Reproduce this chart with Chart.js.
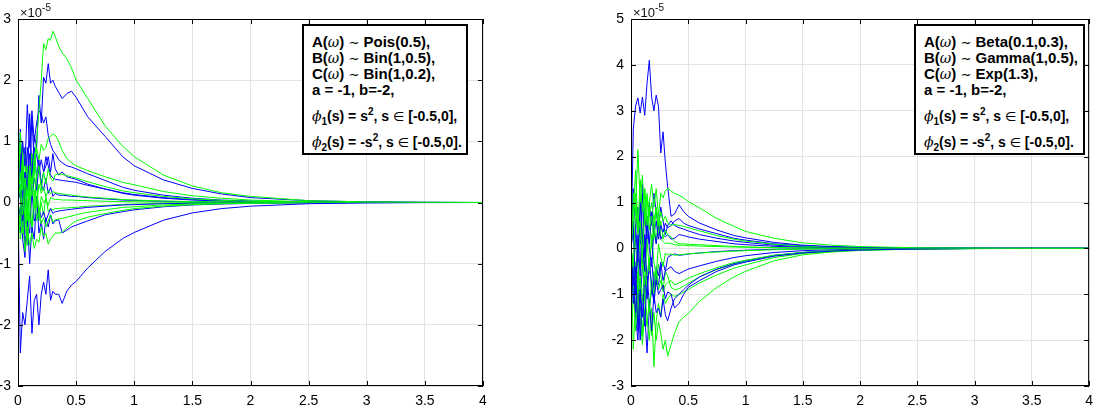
<!DOCTYPE html>
<html>
<head>
<meta charset="utf-8">
<script src="https://cdn.jsdelivr.net/npm/chart.js@4"></script>
<style>
  body { margin: 0; background: #fff; width: 1100px; height: 407px; overflow: hidden; position: relative; font-family: "Liberation Sans", Arial, sans-serif; }
  canvas { position: absolute; top: 0; }
  .expo { position: absolute; top: 3px; font-size: 13px; color: #111; }
  .expo sup { font-size: 10px; position: relative; top: -1px; }
  .box { position: absolute; top: 24px; height: 127px; background: #fff; border: 2px solid #000; }
  .ln { position: absolute; left: 8px; font-weight: bold; font-size: 15px; line-height: 15px; white-space: nowrap; color: #000; }
  .ln.f { font-size: 14px; }
  .ln i { font-family: "DejaVu Serif", serif; font-weight: normal; font-style: italic; font-size: 14px; }
  .ln .m { font-family: "DejaVu Sans", sans-serif; font-weight: normal; font-size: 13px; }
  .ln sub, .ln sup { font-size: 10px; line-height: 0; }
</style>
</head>
<body>
<canvas id="left" width="500" height="407" style="left:0"></canvas>
<canvas id="right" width="500" height="407" style="left:600px"></canvas>

<div class="expo" style="left:20px">&times;10<sup>-5</sup></div>
<div class="expo" style="left:633px">&times;10<sup>-5</sup></div>

<div class="box" style="left:302px; width:162px">
  <div class="ln" style="top:8px">A(<i>ω</i>) <span class="m">∼</span> Pois(0.5),</div>
  <div class="ln" style="top:24px">B(<i>ω</i>) <span class="m">∼</span> Bin(1,0.5),</div>
  <div class="ln" style="top:40px">C(<i>ω</i>) <span class="m">∼</span> Bin(1,0.2),</div>
  <div class="ln" style="top:56px">a = -1, b=-2,</div>
  <div class="ln f" style="top:83px"><i>ϕ</i><sub>1</sub>(s) = s<sup>2</sup>, s <span class="m">∈</span> [-0.5,0],</div>
  <div class="ln f" style="top:109px"><i>ϕ</i><sub>2</sub>(s) = -s<sup>2</sup>, s <span class="m">∈</span> [-0.5,0].</div>
</div>
<div class="box" style="left:914px; width:167px">
  <div class="ln" style="top:8px">A(<i>ω</i>) <span class="m">∼</span> Beta(0.1,0.3),</div>
  <div class="ln" style="top:24px">B(<i>ω</i>) <span class="m">∼</span> Gamma(1,0.5),</div>
  <div class="ln" style="top:40px">C(<i>ω</i>) <span class="m">∼</span> Exp(1.3),</div>
  <div class="ln" style="top:56px">a = -1, b=-2,</div>
  <div class="ln f" style="top:83px"><i>ϕ</i><sub>1</sub>(s) = s<sup>2</sup>, s <span class="m">∈</span> [-0.5,0],</div>
  <div class="ln f" style="top:109px"><i>ϕ</i><sub>2</sub>(s) = -s<sup>2</sup>, s <span class="m">∈</span> [-0.5,0].</div>
</div>

<script>
// time grid (s), values are in units of 1e-5
const times = [0, 0.02, 0.04, 0.06, 0.08, 0.1, 0.12, 0.14, 0.16, 0.18, 0.2, 0.22, 0.24, 0.26, 0.28, 0.3, 0.32, 0.35, 0.38, 0.42, 0.46, 0.5, 0.6, 0.75, 0.9, 1.0, 1.25, 1.5, 1.75, 2.0, 2.5, 3.0, 3.5, 4.0];
const xTicks = [0, 0.5, 1, 1.5, 2, 2.5, 3, 3.5, 4];
const yTicksLeft = [-3, -2, -1, 0, 1, 2, 3];
const yTicksRight = [-3, -2, -1, 0, 1, 2, 3, 4, 5];

// left panel: Pois / Bin / Bin
const leftBlue = [
  [0, 0.3, -0.2, 0.5, 0.2, 0.8, 0.4, 1.1, 0.9, 1.75, 1.3, 2.05, 1.95, 2.27, 1.95, 2.0, 1.9, 1.8, 1.7, 1.78, 1.82, 1.72, 1.4, 1.08, 0.75, 0.6, 0.37, 0.23, 0.14, 0.08, 0.03, 0.01, 0.004, 0],
  [0, -2.46, -1.8, -2.0, -1.6, -1.2, -2.14, -1.6, -1.5, -2.0, -1.5, -1.3, -1.5, -1.1, -1.6, -1.45, -1.5, -1.5, -1.65, -1.45, -1.35, -1.29, -1.07, -0.8, -0.59, -0.49, -0.29, -0.17, -0.1, -0.06, -0.02, -0.007, -0.002, 0],
  [0, 0.5, 1.0, 0.6, 1.6, 0.9, 1.5, 1.0, 1.3, 1.5, 1.45, 1.3, 1.4, 1.1, 0.95, 0.85, 0.8, 0.7, 0.65, 0.6, 0.58, 0.55, 0.47, 0.36, 0.25, 0.2, 0.12, 0.07, 0.04, 0.025, 0.008, 0.003, 0.001, 0],
  [0, -0.3, 0.6, 0.2, 0.9, 0.4, 1.4, 0.6, 0.8, 0.5, 0.7, 0.5, 0.75, 0.6, 0.45, 0.4, 0.38, 0.37, 0.36, 0.35, 0.34, 0.33, 0.28, 0.22, 0.16, 0.13, 0.08, 0.05, 0.03, 0.015, 0.005, 0.002, 0, 0],
  [0, 0.8, -0.4, 0.3, -0.2, 0.5, 0.1, 0.4, 0.2, 0.6, 0.3, 0.2, 0.4, 0.15, 0.25, 0.1, 0.15, 0.12, 0.12, 0.11, 0.1, 0.1, 0.08, 0.06, 0.04, 0.035, 0.02, 0.012, 0.007, 0.004, 0.001, 0, 0, 0],
  [0, -0.5, 0.3, -0.8, -0.2, -1.0, -0.4, -0.6, 0.1, -0.5, -0.3, -0.6, -0.25, -0.4, -0.2, -0.35, -0.3, -0.28, -0.5, -0.45, -0.4, -0.37, -0.3, -0.2, -0.15, -0.12, -0.07, -0.04, -0.025, -0.015, -0.005, -0.002, 0, 0],
  [0, 0.2, -0.6, -0.9, -0.3, -0.5, 0.2, -0.3, -0.2, -0.1, -0.25, -0.15, -0.3, -0.2, -0.1, -0.18, -0.15, -0.14, -0.13, -0.12, -0.11, -0.1, -0.08, -0.06, -0.04, -0.035, -0.02, -0.012, -0.007, -0.004, -0.001, 0, 0, 0],
  [0, 1.2, 0.3, 0.9, 0.2, 1.45, 0.5, 0.9, 0.4, 0.7, 0.3, 0.5, 0.6, 0.75, 0.5, 0.8, 0.55, 0.45, 0.5, 0.42, 0.4, 0.38, 0.3, 0.22, 0.15, 0.12, 0.07, 0.04, 0.025, 0.015, 0.005, 0.002, 0, 0]
];
const leftGreen = [
  [0, 0.3, -0.2, 0.4, 0.1, 0.6, 0.3, 0.7, 1.0, 1.5, 2.0, 2.6, 2.5, 2.68, 2.65, 2.8, 2.72, 2.55, 2.45, 2.35, 2.2, 2.0, 1.7, 1.25, 0.92, 0.75, 0.45, 0.27, 0.16, 0.1, 0.03, 0.01, 0.004, 0],
  [0, 0.5, -0.2, 0.3, 0.6, 0.2, 0.8, 0.5, 0.9, 0.7, 0.95, 0.85, 0.9, 1.05, 1.08, 1.12, 1.1, 1.0, 0.85, 0.72, 0.65, 0.6, 0.52, 0.42, 0.33, 0.29, 0.18, 0.11, 0.07, 0.04, 0.013, 0.005, 0.001, 0],
  [0, -0.4, 0.7, 0.2, -0.3, 0.5, 0.3, 0.8, 0.4, 0.6, 0.2, 0.5, 0.3, 0.55, 0.4, 0.35, 0.45, 0.47, 0.46, 0.44, 0.42, 0.4, 0.34, 0.26, 0.19, 0.16, 0.1, 0.06, 0.035, 0.02, 0.007, 0.002, 0, 0],
  [0, 1.15, 0.2, 0.8, -0.2, 0.4, 0.1, 0.6, -0.1, 0.3, 0.15, 0.25, 0.1, 0.2, 0.15, 0.18, 0.16, 0.15, 0.14, 0.13, 0.12, 0.11, 0.09, 0.07, 0.05, 0.04, 0.025, 0.015, 0.009, 0.005, 0.002, 0, 0, 0],
  [0, -0.6, -0.3, -0.8, -0.4, -0.7, -0.5, -0.75, -0.6, -0.65, -0.4, -0.55, -0.5, -0.68, -0.6, -0.55, -0.5, -0.5, -0.48, -0.42, -0.35, -0.3, -0.24, -0.18, -0.13, -0.1, -0.06, -0.035, -0.02, -0.012, -0.004, -0.001, 0, 0],
  [0, 0.3, -0.5, 0.1, -0.6, -0.2, -0.4, 0.2, -0.3, -0.1, -0.35, -0.25, -0.4, -0.3, -0.2, -0.32, -0.28, -0.27, -0.26, -0.24, -0.22, -0.2, -0.16, -0.12, -0.08, -0.07, -0.04, -0.025, -0.015, -0.008, -0.003, -0.001, 0, 0],
  [0, -0.2, 0.9, -0.5, 0.4, -0.3, 0.6, 0.1, 0.3, -0.2, 0.1, 0.0, 0.05, -0.05, 0.08, 0.06, 0.05, 0.05, 0.04, 0.04, 0.04, 0.035, 0.03, 0.02, 0.015, 0.012, 0.007, 0.004, 0.002, 0.001, 0, 0, 0, 0],
  [0, 1.0, -0.3, 0.5, -0.7, 0.2, -0.5, -0.1, 0.4, -0.3, 0.0, -0.2, 0.1, -0.15, -0.1, -0.12, -0.1, -0.1, -0.09, -0.09, -0.08, -0.08, -0.06, -0.05, -0.03, -0.025, -0.015, -0.008, -0.005, -0.003, -0.001, 0, 0, 0]
];

// right panel: Beta / Gamma / Exp
const rightBlue = [
  [0, 2.6, 3.1, 3.28, 2.95, 3.3, 2.9, 3.6, 4.1, 3.3, 3.0, 3.34, 3.1, 2.08, 2.54, 1.86, 1.35, 0.7, 0.75, 0.95, 0.8, 0.7, 0.55, 0.4, 0.28, 0.23, 0.13, 0.07, 0.04, 0.025, 0.008, 0.003, 0.001, 0],
  [0, -0.8, 0.5, -0.3, 1.0, 0.2, -0.5, 0.6, 0.1, 0.8, 0.3, 0.6, 0.2, 0.5, 0.35, 0.55, 0.45, 0.5, 0.6, 0.65, 0.55, 0.5, 0.42, 0.32, 0.22, 0.18, 0.1, 0.055, 0.03, 0.018, 0.006, 0.002, 0, 0],
  [0, 0.6, -1.0, 0.3, -0.6, 1.2, -0.2, 0.7, 0.0, -0.4, 0.4, 0.1, 0.5, 0.2, 0.3, 0.25, 0.3, 0.2, 0.22, 0.3, 0.28, 0.25, 0.2, 0.15, 0.1, 0.08, 0.045, 0.025, 0.015, 0.008, 0.003, 0.001, 0, 0],
  [0, -1.2, -0.4, -1.8, -0.9, -1.5, -0.6, -1.1, -0.3, -0.8, -1.2, -0.7, -1.0, -0.9, -0.8, -1.1, -0.95, -1.0, -1.3, -1.2, -1.0, -0.85, -0.7, -0.5, -0.36, -0.3, -0.17, -0.1, -0.06, -0.035, -0.012, -0.004, -0.001, 0],
  [0, -0.5, -1.4, -0.8, -2.0, -1.0, -1.7, -0.6, -1.2, -1.8, -1.0, -1.4, -1.3, -1.5, -1.1, -1.45, -1.58, -1.3, -1.1, -1.0, -0.9, -0.8, -0.62, -0.45, -0.33, -0.27, -0.15, -0.09, -0.05, -0.03, -0.01, -0.003, -0.001, 0],
  [0, 0.4, -0.8, -0.2, -1.2, -0.4, 0.3, -0.7, -0.5, -0.2, -0.9, -0.4, -0.6, -0.3, -0.7, -0.5, -0.45, -0.4, -0.5, -0.55, -0.5, -0.45, -0.38, -0.28, -0.2, -0.16, -0.09, -0.05, -0.03, -0.018, -0.006, -0.002, 0, 0],
  [0, -0.8, -1.5, -2.0, -1.2, -1.9, -1.4, -2.28, -1.3, -0.9, -1.1, -0.6, -0.8, -0.4, -0.3, -0.5, -0.2, -0.15, -0.12, -0.15, -0.14, -0.12, -0.1, -0.07, -0.05, -0.04, -0.02, -0.012, -0.007, -0.004, -0.001, 0, 0, 0],
  [0, 1.3, 0.4, 0.9, 0.1, 1.4, 0.7, 0.2, 1.0, 0.5, 1.2, 0.8, 0.4, 0.9, 0.6, 0.3, 0.5, 0.6, 0.5, 0.45, 0.42, 0.38, 0.3, 0.22, 0.16, 0.13, 0.07, 0.04, 0.024, 0.014, 0.005, 0.002, 0, 0]
];
const rightGreen = [
  [0, 0.6, 1.2, 0.4, 1.5, 0.8, 1.3, 0.5, 1.0, 1.4, 0.9, 1.3, 0.7, 1.2, 1.1, 1.25, 1.31, 1.25, 1.2, 1.16, 1.1, 1.02, 0.88, 0.65, 0.48, 0.37, 0.22, 0.12, 0.07, 0.04, 0.012, 0.004, 0.001, 0],
  [0, -0.4, 0.9, 0.3, 0.6, -0.2, 0.8, 1.1, 0.4, 0.7, 0.2, 0.9, 0.5, 0.8, 0.6, 0.7, 0.55, 0.5, 0.52, 0.5, 0.48, 0.45, 0.38, 0.28, 0.2, 0.16, 0.09, 0.05, 0.03, 0.018, 0.006, 0.002, 0, 0],
  [0, 1.2, 0.8, 2.15, 1.0, 1.6, 0.5, 1.2, 0.7, 1.0, 0.6, 0.9, 0.3, 0.6, 0.2, 0.4, 0.3, 0.25, 0.15, 0.1, 0.1, 0.09, 0.08, 0.06, 0.04, 0.03, 0.018, 0.01, 0.006, 0.003, 0.001, 0, 0, 0],
  [0, -0.6, 0.3, -1.0, 0.5, -0.4, -0.8, 0.2, -0.5, 0.3, -0.3, -0.6, 0.1, -0.2, -0.4, -0.1, -0.15, -0.12, -0.15, -0.14, -0.13, -0.12, -0.1, -0.08, -0.06, -0.05, -0.03, -0.016, -0.01, -0.006, -0.002, 0, 0, 0],
  [0, -1.0, -0.3, -1.5, -0.6, -1.2, -0.2, -0.9, -1.4, -0.7, -1.0, -0.5, -0.9, -0.7, -0.95, -0.8, -0.75, -0.7, -0.8, -0.75, -0.7, -0.65, -0.55, -0.42, -0.31, -0.26, -0.15, -0.09, -0.05, -0.03, -0.01, -0.003, -0.001, 0],
  [0, -1.0, -1.8, -0.9, -1.5, -2.1, -1.3, -1.7, -1.1, -1.9, -1.4, -2.0, -1.6, -1.85, -2.2, -2.0, -2.35, -2.1, -1.85, -1.6, -1.5, -1.42, -1.15, -0.85, -0.62, -0.5, -0.27, -0.14, -0.08, -0.045, -0.015, -0.005, -0.001, 0],
  [0, -2.2, -1.2, -1.6, -0.8, -1.9, -1.0, -1.5, -2.0, -1.3, -2.58, -1.6, -1.2, -1.5, -1.0, -1.2, -1.1, -1.0, -1.05, -1.0, -0.95, -0.9, -0.75, -0.58, -0.43, -0.36, -0.2, -0.11, -0.065, -0.04, -0.013, -0.004, -0.001, 0],
  [0, 0.8, 1.7, 0.4, 1.1, 0.2, 1.3, 0.3, 0.9, 0.0, 0.6, 0.1, 0.8, 0.2, 0.15, 0.1, 0.12, 0.1, 0.08, 0.07, 0.07, 0.06, 0.05, 0.04, 0.03, 0.025, 0.015, 0.008, 0.005, 0.003, 0.001, 0, 0, 0],
  [0, -0.3, -1.3, -0.5, -0.9, 0.2, -1.1, -0.6, -0.2, -1.0, -0.5, -0.8, -0.35, -0.6, -0.9, -0.5, -0.6, -0.85, -0.9, -0.88, -0.82, -0.76, -0.62, -0.46, -0.34, -0.28, -0.16, -0.09, -0.055, -0.032, -0.01, -0.003, -0.001, 0]
];

const BLUE = '#0000ff';
const GREEN = '#00ff00';

function line(vals, color) {
  return {
    data: times.map((t, i) => ({ x: t, y: vals[i] })),
    borderColor: color,
    borderWidth: 1,
    pointRadius: 0,
    tension: 0,
    fill: false
  };
}

function buildSets(blue, green) {
  const sets = [];
  const n = Math.max(blue.length, green.length);
  for (let i = 0; i < n; i++) {
    if (green[i]) sets.push(line(green[i], GREEN));
    if (blue[i]) sets.push(line(blue[i], BLUE));
  }
  return sets;
}

// box round the axes with inward ticks, like matlab
const boxPlugin = {
  id: 'box',
  afterDraw(chart) {
    const { ctx, chartArea: a, scales: { x, y } } = chart;
    ctx.save();
    ctx.strokeStyle = '#000';
    ctx.lineWidth = 1;
    ctx.strokeRect(a.left + 0.5, a.top + 0.5, a.right - a.left - 1, a.bottom - a.top - 1);
    ctx.beginPath();
    x.ticks.forEach(t => {
      const p = Math.round(x.getPixelForValue(t.value)) + 0.5;
      ctx.moveTo(p, a.bottom); ctx.lineTo(p, a.bottom - 5);
      ctx.moveTo(p, a.top); ctx.lineTo(p, a.top + 5);
    });
    y.ticks.forEach(t => {
      const p = Math.round(y.getPixelForValue(t.value)) + 0.5;
      ctx.moveTo(a.left, p); ctx.lineTo(a.left + 5, p);
      ctx.moveTo(a.right, p); ctx.lineTo(a.right - 5, p);
    });
    ctx.stroke();
    ctx.restore();
  }
};

function makeChart(id, blue, green, yTicks, yWidth, padRight) {
  new Chart(document.getElementById(id), {
    type: 'line',
    data: { datasets: buildSets(blue, green) },
    plugins: [boxPlugin],
    options: {
      responsive: false,
      animation: false,
      layout: { padding: { top: 19, right: padRight, left: 0, bottom: 0 } },
      plugins: { legend: { display: false }, tooltip: { enabled: false } },
      scales: {
        x: {
          type: 'linear',
          min: xTicks[0],
          max: xTicks[xTicks.length - 1],
          afterBuildTicks: s => { s.ticks = xTicks.map(v => ({ value: v })); },
          afterFit: s => { s.height = 21; },
          grid: { color: '#e3e3e3', drawTicks: false },
          border: { display: false },
          ticks: { color: '#000', padding: 7, maxRotation: 0, callback: v => String(v), font: { family: 'Liberation Sans', size: 14 } }
        },
        y: {
          type: 'linear',
          min: yTicks[0],
          max: yTicks[yTicks.length - 1],
          afterBuildTicks: s => { s.ticks = yTicks.map(v => ({ value: v })); },
          afterFit: s => { s.width = yWidth; },
          grid: { color: '#e3e3e3', drawTicks: false },
          border: { display: false },
          ticks: { color: '#000', padding: 7, callback: v => String(v), font: { family: 'Liberation Sans', size: 14 } }
        }
      }
    }
  });
}

makeChart('left', leftBlue, leftGreen, yTicksLeft, 18, 17);
makeChart('right', rightBlue, rightGreen, yTicksRight, 31, 4);
</script>
</body>
</html>
